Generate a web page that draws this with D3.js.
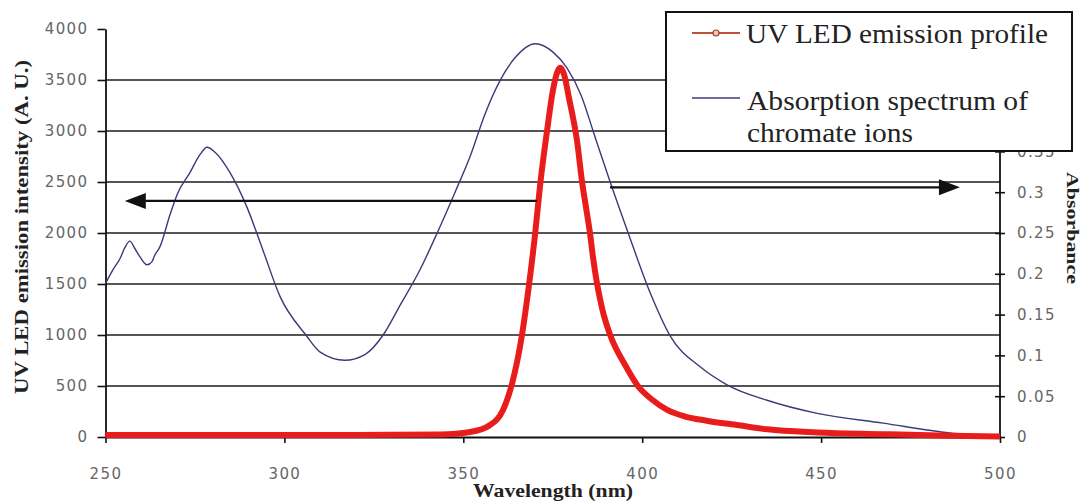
<!DOCTYPE html>
<html>
<head>
<meta charset="utf-8">
<script src="https://cdn.jsdelivr.net/npm/d3@7"></script>
<style>
  html, body { margin: 0; padding: 0; background: #fff; }
  svg { display: block; }
</style>
</head>
<body>
<svg id="chart" width="1085" height="502"></svg>
<script>
// UV LED emission profile (arbitrary units) vs wavelength (nm)
const ledWavelength = [250, 270, 290, 310, 330, 343.5, 351.9, 357.5, 361.1, 363.6, 366.4, 368.1, 370.1, 371.5, 373.4,
  375.0, 376.3, 377.1, 378.2, 379.5, 381.8, 383.2, 384.3, 385.4, 386.3, 387.3, 388.3, 389.3, 390.3, 391.5,
  395.0, 398.8, 403.0, 407.0, 412.0, 418.0, 427.0, 435.0, 449.0, 467.0, 486.0, 500.0];
const ledIntensity = [20, 20, 20, 20, 21, 25, 49, 118, 265, 520, 1000, 1420, 2000, 2480, 3000,
  3390, 3580, 3620, 3550, 3330, 2900, 2500, 2250, 2000, 1750, 1520, 1340, 1190, 1075, 960,
  720, 500, 360, 265, 200, 160, 115, 75, 45, 28, 12, 5];

// Absorption spectrum of chromate ions (absorbance) vs wavelength (nm)
const absWavelength = [250.0, 252.1, 254.1, 255.4, 256.8, 258.2, 259.6, 261.6, 263.0, 263.8, 265.2, 268.0,
  270.0, 273.6, 276.4, 278.4, 280.6, 284.8, 289.5, 294.0, 298.8, 306.0, 310.0, 316.9, 322.5, 327.6,
  332.4, 337.9, 342.7, 347.7, 352.0, 356.0, 360.3, 364.5, 370.1, 375.0, 379.0, 383.0, 386.5, 391.0,
  396.0, 402.2, 407.8, 416.2, 423.7, 434.9, 448.9, 467.3, 486.0, 500.0];
const absorbance = [0.188, 0.205, 0.219, 0.232, 0.240, 0.231, 0.221, 0.211, 0.215, 0.223, 0.233, 0.272,
  0.297, 0.324, 0.346, 0.355, 0.349, 0.324, 0.282, 0.229, 0.172, 0.125, 0.104, 0.094, 0.101, 0.125,
  0.162, 0.205, 0.250, 0.300, 0.345, 0.395, 0.437, 0.465, 0.482, 0.472, 0.452, 0.418, 0.372, 0.313,
  0.251, 0.177, 0.124, 0.086, 0.064, 0.045, 0.029, 0.017, 0.005, 0.001];

const xTicks = [250, 300, 350, 400, 450, 500];
const leftTicks = [0, 500, 1000, 1500, 2000, 2500, 3000, 3500, 4000];
const rightTicks = [0, 0.05, 0.1, 0.15, 0.2, 0.25, 0.3, 0.35];
const gridValues = [500, 1000, 1500, 2000, 2500, 3000, 3500];

// Arrows pointing each curve to its axis: [from nm, to nm, level]
const leftArrow = [370.6, 255.4, 2314];     // level in emission units
const rightArrow = [391.0, 488.8, 0.306];   // level in absorbance units

const xTitle = "Wavelength (nm)";
const leftTitle = "UV LED emission intensity (A. U.)";
const rightTitle = "Absorbance";
const legendEmission = ["UV LED emission profile"];
const legendAbsorption = ["Absorption spectrum of", "chromate ions"];

const svg = d3.select("#chart");
const x = d3.scaleLinear().domain([250, 500]).range([105.5, 1000]);
const yL = d3.scaleLinear().domain([0, 4000]).range([437, 29]);
const yR = d3.scaleLinear().domain([0, 0.5]).range([437, 29]);

const tickFont = "'DejaVu Sans', sans-serif";
const serif = "'Liberation Serif', 'Times New Roman', serif";

// horizontal grid
svg.append("g").selectAll("line").data(gridValues).join("line")
  .attr("x1", x(250)).attr("x2", x(500))
  .attr("y1", d => yL(d)).attr("y2", d => yL(d))
  .attr("stroke", "#1c1c1c").attr("stroke-width", 1.7);

// left axis
const gL = svg.append("g").attr("transform", `translate(${x(250)},0)`)
  .call(d3.axisLeft(yL).tickValues(leftTicks).tickSize(8).tickSizeOuter(0).tickPadding(9).tickFormat(d3.format("d")));
// bottom axis
const gB = svg.append("g").attr("transform", `translate(0,${yL(0)})`)
  .call(d3.axisBottom(x).tickValues(xTicks).tickSize(6).tickSizeOuter(0).tickPadding(25));
// right axis, running the full plot height
const gR = svg.append("g").attr("transform", `translate(${x(500)},0)`)
  .call(d3.axisRight(yR).tickValues(rightTicks).tickSize(5).tickSizeOuter(0).tickPadding(12).tickFormat(d => d === 0 ? "0" : d3.format("~g")(d)));
gR.selectAll(".tick line").attr("x1", -5);
gR.select(".domain").attr("d", `M0,${yR(0)}V${yR(0.5)}`);

[gL, gB, gR].forEach(g => {
  g.select(".domain").attr("stroke", "#111").attr("stroke-width", 1.8);
  g.selectAll(".tick line").attr("stroke", "#111").attr("stroke-width", 1.6);
  g.selectAll(".tick text").attr("fill", "#666").style("font-family", tickFont)
    .style("font-size", "15px").style("letter-spacing", "1.4px");
});

// absorption spectrum
const absLine = d3.line().x((d, i) => x(absWavelength[i])).y(d => yR(d)).curve(d3.curveMonotoneX);
svg.append("path").datum(absorbance).attr("d", absLine)
  .attr("fill", "none").attr("stroke", "#3b3b78").attr("stroke-width", 1.4);

// LED emission
const ledLine = d3.line().x((d, i) => x(ledWavelength[i])).y(d => yL(d)).curve(d3.curveMonotoneX);
svg.append("path").datum(ledIntensity).attr("d", ledLine)
  .attr("fill", "none").attr("stroke", "#ec1c1c").attr("stroke-width", 6).attr("stroke-linejoin", "round");
svg.append("path").datum(ledIntensity).attr("d", ledLine)
  .attr("fill", "none").attr("stroke", "#c8261c").attr("stroke-width", 1.6).attr("stroke-dasharray", "1.5,2.5");

// arrows
function arrow(x0, x1, yv, dir) {
  const g = svg.append("g");
  g.append("line").attr("x1", x0).attr("x2", x1 - dir * 14).attr("y1", yv).attr("y2", yv)
    .attr("stroke", "#111").attr("stroke-width", 2.2);
  g.append("path").attr("d", `M${x1},${yv} L${x1 - dir * 21},${yv - 8} L${x1 - dir * 21},${yv + 8} Z`).attr("fill", "#111");
}
arrow(x(leftArrow[0]), x(leftArrow[1]), yL(leftArrow[2]), -1);
arrow(x(rightArrow[0]), x(rightArrow[1]), yR(rightArrow[2]), 1);

// axis titles
svg.append("text").text(xTitle).attr("x", 553).attr("y", 497).attr("text-anchor", "middle")
  .attr("textLength", 160).attr("lengthAdjust", "spacingAndGlyphs")
  .style("font-family", serif).style("font-size", "19px").style("font-weight", "bold").attr("fill", "#222");
svg.append("text").text(leftTitle).attr("transform", "translate(28,394) rotate(-90)")
  .attr("textLength", 334).attr("lengthAdjust", "spacingAndGlyphs")
  .style("font-family", serif).style("font-size", "18px").style("font-weight", "bold").attr("fill", "#222");
svg.append("text").text(rightTitle).attr("transform", "translate(1067,172) rotate(90)")
  .attr("textLength", 112).attr("lengthAdjust", "spacingAndGlyphs")
  .style("font-family", serif).style("font-size", "17px").style("font-weight", "bold").attr("fill", "#222");

// legend
const lg = svg.append("g");
lg.append("rect").attr("x", 666).attr("y", 12).attr("width", 406).attr("height", 139)
  .attr("fill", "#fff").attr("stroke", "#111").attr("stroke-width", 2);
lg.append("line").attr("x1", 692).attr("x2", 740).attr("y1", 33).attr("y2", 33)
  .attr("stroke", "#c0503c").attr("stroke-width", 2);
lg.append("circle").attr("cx", 716).attr("cy", 33).attr("r", 3)
  .attr("fill", "#f3c8b8").attr("stroke", "#a04030").attr("stroke-width", 1.2);
lg.append("line").attr("x1", 692).attr("x2", 740).attr("y1", 98).attr("y2", 98)
  .attr("stroke", "#3b3b78").attr("stroke-width", 1.6);
const legendStyle = t => t.style("font-family", serif).style("font-size", "28px").attr("fill", "#222")
  .attr("lengthAdjust", "spacingAndGlyphs");
lg.append("text").text(legendEmission[0]).attr("x", 746).attr("y", 43).attr("textLength", 302).call(legendStyle);
lg.append("text").text(legendAbsorption[0]).attr("x", 747).attr("y", 110).attr("textLength", 281).call(legendStyle);
lg.append("text").text(legendAbsorption[1]).attr("x", 747).attr("y", 142).attr("textLength", 166).call(legendStyle);
</script>
</body>
</html>
